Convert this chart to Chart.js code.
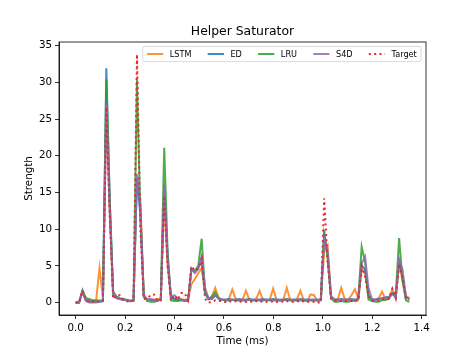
<!DOCTYPE html>
<html>
<head>
<meta charset="utf-8">
<script src="https://cdn.jsdelivr.net/npm/chart.js@4/dist/chart.umd.min.js"></script>
<style>
  body { margin: 0; background: #fff; }
  canvas { display: block; }
</style>
</head>
<body>
<canvas id="saturator" width="474" height="355"></canvas>
<script>
// values, one sample per step
const lstm = [
  0, 0, 1.5, 0.5, 0.3, 0.3, 0.3, 4.7, 0.6, 26,
  12, 1.5, 0.8, 0.5, 0.4, 0.3, 0.2, 0.3, 17, 14,
  1.0, 0.5, 0.4, 0.4, 0.5, 0.5, 14, 5, 0.8, 0.5,
  0.5, 0.5, 0.4, 0.5, 2.5, 3.2, 4.0, 4.7, 1.5, 0.5,
  0.8, 2.0, 0.6, 0.4, 0.3, 0.5, 1.8, 0.5, 0.3, 0.4,
  1.6, 0.4, 0.3, 0.5, 1.6, 0.4, 0.3, 0.4, 1.9, 0.4,
  0.3, 0.4, 2.0, 0.4, 0.3, 0.5, 1.6, 0.3, 0.2, 1.1,
  1.0, 0.2, 0.3, 7.0, 7.8, 1.0, 0.4, 0.5, 2.0, 0.5,
  0.4, 1.0, 1.8, 0.6, 4.5, 4.0, 1.0, 0.4, 0.4, 0.6,
  1.5, 0.4, 0.5, 1.8, 0.8, 5.2, 3.0, 0.9, 0.6
];
const ed = [
  0, 0, 1.5, 0.3, 0.1, 0.1, 0.1, 0.1, 0.2, 31.9,
  14, 1.0, 0.6, 0.5, 0.4, 0.3, 0.2, 0.3, 17, 12,
  0.8, 0.4, 0.4, 0.3, 0.3, 0.4, 16, 6, 0.6, 0.5,
  0.4, 0.4, 0.3, 0.3, 4.5, 4.2, 4.8, 5.5, 1.2, 0.5,
  0.5, 1.0, 0.5, 0.4, 0.4, 0.5, 0.4, 0.4, 0.5, 0.4,
  0.4, 0.5, 0.4, 0.4, 0.4, 0.5, 0.4, 0.4, 0.5, 0.4,
  0.4, 0.4, 0.5, 0.4, 0.4, 0.4, 0.5, 0.4, 0.4, 0.4,
  0.4, 0.4, 0.4, 9.2, 6.5, 0.8, 0.4, 0.4, 0.5, 0.4,
  0.4, 0.5, 0.4, 0.5, 5.0, 4.5, 1.0, 0.4, 0.4, 0.5,
  0.6, 0.7, 0.8, 1.2, 0.8, 5.6, 3.5, 0.7, 0.5
];
const lru = [
  0, 0, 1.7, 0.6, 0.5, 0.3, 0.3, 0.3, 0.3, 30.4,
  14, 1.5, 0.8, 0.6, 0.5, 0.4, 0.3, 0.3, 30.4, 12,
  1.0, 0.2, 0.1, 0.1, 0.2, 0.5, 21.1, 7, 0.3, 0.2,
  0.2, 0.3, 0.2, 0.2, 4.7, 4.3, 5.0, 8.7, 1.5, 0.5,
  0.8, 1.4, 0.6, 0.4, 0.3, 0.3, 0.4, 0.3, 0.3, 0.3,
  0.3, 0.4, 0.3, 0.3, 0.3, 0.3, 0.4, 0.3, 0.3, 0.3,
  0.3, 0.3, 0.4, 0.3, 0.3, 0.3, 0.3, 0.3, 0.3, 0.3,
  0.3, 0.3, 0.4, 9.8, 6.0, 0.6, 0.1, 0.1, 0.2, 0.1,
  0.1, 0.2, 0.2, 0.5, 7.6, 5.5, 0.4, 0.2, 0.1, 0.1,
  0.3, 0.4, 0.5, 1.3, 0.9, 8.8, 3.0, 0.3, 0.1
];
const s4d = [
  0, 0, 1.6, 0.2, 0.0, 0.0, 0.0, 0.1, 0.2, 27,
  13, 1.2, 0.6, 0.5, 0.4, 0.3, 0.2, 0.3, 17.5, 13,
  0.8, 0.4, 0.5, 0.4, 0.3, 0.4, 15.9, 6, 0.8, 1.0,
  0.6, 0.4, 0.3, 0.2, 4.6, 4.0, 4.6, 6.3, 2.0, 0.6,
  0.5, 1.0, 0.6, 0.4, 0.4, 0.4, 0.4, 0.4, 0.4, 0.4,
  0.4, 0.4, 0.4, 0.4, 0.4, 0.4, 0.4, 0.4, 0.4, 0.4,
  0.4, 0.4, 0.4, 0.4, 0.4, 0.4, 0.4, 0.4, 0.4, 0.4,
  0.4, 0.4, 0.4, 8.9, 7.0, 0.8, 0.4, 0.4, 0.4, 0.4,
  0.4, 0.4, 0.4, 0.5, 5.3, 6.3, 2.0, 0.5, 0.4, 0.4,
  0.6, 0.7, 0.7, 1.2, 0.7, 5.9, 4.5, 0.8, 0.5
];
const target = [
  0, 0, 1.6, 0.4, 0.1, 0.1, 0.1, 0.2, 0.3, 26.6,
  12, 0.5, 1.0, 1.0, 0.4, 0.2, 0.1, 0.3, 33.8, 10,
  0.5, 0.6, 1.0, 1.1, 0.3, 0.3, 14.5, 5, 0.3, 1.0,
  0.4, 1.3, 1.3, 0.3, 4.9, 4.4, 4.6, 6.0, 0.5, 0.0,
  0.1, 0.3, 0.2, 0.2, 0.1, 0.2, 0.1, 0.2, 0.1, 0.2,
  0.1, 0.2, 0.1, 0.2, 0.1, 0.2, 0.1, 0.1, 0.2, 0.1,
  0.2, 0.1, 0.2, 0.1, 0.1, 0.2, 0.1, 0.2, 0.1, 0.1,
  0.1, 0.0, 0.0, 14.2, 5.5, 0.5, 0.3, 0.2, 0.2, 0.2,
  0.2, 0.2, 0.2, 0.3, 5.0, 3.5, 0.8, 0.3, 0.2, 0.3,
  0.5, 0.4, 0.6, 1.9, 0.6, 5.3, 3.5, 0.5, 0.4
];

// sample grid (ms) and axis ticks
const sampleStepMs = 0.013776;
const timeMs = lstm.map((_, i) => +(i * sampleStepMs).toFixed(4));
const xTicks = [0, 0.2, 0.4, 0.6, 0.8, 1.0, 1.2, 1.4];
const yTicks = [0, 5, 10, 15, 20, 25, 30, 35];

const seriesNames = ["LSTM", "ED", "LRU", "S4D", "Target"];
const seriesValues = [lstm, ed, lru, s4d, target];
const seriesColors = ["#ff7f0e", "#1f77b4", "#2ca02c", "#9467bd", "#e8262b"];

const FONT = "DejaVu Sans";

function toPoints(values) {
  return values.map((v, i) => ({ x: timeMs[i], y: v }));
}

function withAlpha(hex, a) {
  const n = parseInt(hex.slice(1), 16);
  return `rgba(${(n >> 16) & 255},${(n >> 8) & 255},${n & 255},${a})`;
}

const datasets = seriesNames.map((name, i) => {
  const isTarget = name === "Target";
  return {
    label: name,
    data: toPoints(seriesValues[i]),
    borderColor: isTarget ? seriesColors[i] : withAlpha(seriesColors[i], 0.85),
    borderWidth: 2,
    borderDash: isTarget ? [2, 3.3] : [],
    pointRadius: 0,
    tension: 0,
    fill: false,
    order: seriesNames.length - i, // first series drawn first, target on top
  };
});

// matplotlib-like frame, title and in-axes legend
const decorations = {
  id: "decorations",
  afterDraw(chart) {
    const { ctx, chartArea: a } = chart;
    ctx.save();
    ctx.strokeStyle = "#000";
    ctx.lineWidth = 0.8;
    ctx.strokeRect(a.left, a.top, a.right - a.left, a.bottom - a.top);

    ctx.fillStyle = "#000";
    ctx.font = `12.4px "${FONT}"`;
    ctx.textAlign = "center";
    ctx.textBaseline = "alphabetic";
    ctx.fillText("Helper Saturator", (a.left + a.right) / 2, a.top - 7);

    // legend
    const em = 8.13;
    ctx.font = `${em}px "${FONT}"`;
    const handle = 2 * em, pad = 0.8 * em, gap = 2 * em;
    const startX = 147, midY = 54;
    let total = 0;
    seriesNames.forEach((n, i) => {
      total += handle + pad + ctx.measureText(n).width;
      if (i < seriesNames.length - 1) total += gap;
    });
    const boxL = startX - 4.3, boxR = startX + total + 4.3;
    const boxT = midY - 7.6, boxB = midY + 7.6;
    ctx.beginPath();
    ctx.roundRect(boxL, boxT, boxR - boxL, boxB - boxT, 2);
    ctx.fillStyle = "rgba(255,255,255,0.8)";
    ctx.fill();
    ctx.strokeStyle = "#d0d0d0";
    ctx.lineWidth = 0.8;
    ctx.stroke();

    let x = startX;
    ctx.textAlign = "left";
    ctx.textBaseline = "middle";
    seriesNames.forEach((n, i) => {
      ctx.beginPath();
      ctx.setLineDash(n === "Target" ? [2, 3.3] : []);
      ctx.strokeStyle = n === "Target" ? seriesColors[i] : withAlpha(seriesColors[i], 0.85);
      ctx.lineWidth = 2;
      ctx.moveTo(x, midY);
      ctx.lineTo(x + handle, midY);
      ctx.stroke();
      ctx.setLineDash([]);
      ctx.fillStyle = "#000";
      ctx.fillText(n, x + handle + pad, midY + 0.5);
      x += handle + pad + ctx.measureText(n).width + gap;
    });
    ctx.restore();
  },
};

const tickFont = { family: FONT, size: 10.3 };

new Chart(document.getElementById("saturator"), {
  type: "line",
  data: { datasets },
  options: {
    responsive: false,
    animation: false,
    layout: { padding: { top: 42, right: 48, left: 0, bottom: 0 } },
    plugins: {
      legend: { display: false },
      title: { display: false },
      tooltip: { enabled: false },
    },
    scales: {
      x: {
        type: "linear",
        min: -0.0675,
        max: 1.4175,
        afterFit: (s) => { s.height = 40; },
        afterBuildTicks: (s) => { s.ticks = xTicks.map((v) => ({ value: v })); },
        ticks: {
          color: "#000",
          font: tickFont,
          padding: 3,
          maxRotation: 0,
          autoSkip: false,
          callback: (v) => Number(v).toFixed(1),
        },
        grid: { display: true, drawOnChartArea: false, drawTicks: true, tickLength: 4, color: "#000", lineWidth: 0.8 },
        border: { display: true, color: "#000", width: 0.8 },
        title: { display: true, text: "Time (ms)", color: "#000", font: tickFont, padding: { top: 0, bottom: 7 } },
      },
      y: {
        type: "linear",
        min: -1.69,
        max: 35.49,
        afterFit: (s) => { s.width = 59; },
        afterBuildTicks: (s) => { s.ticks = yTicks.map((v) => ({ value: v })); },
        ticks: {
          color: "#000",
          font: tickFont,
          padding: 3,
          autoSkip: false,
          callback: (v) => String(v),
        },
        grid: { display: true, drawOnChartArea: false, drawTicks: true, tickLength: 4, color: "#000", lineWidth: 0.8 },
        border: { display: true, color: "#000", width: 0.8 },
        title: { display: true, text: "Strength", color: "#000", font: tickFont, padding: { top: 23, bottom: 0 } },
      },
    },
  },
  plugins: [decorations],
});
</script>
</body>
</html>
